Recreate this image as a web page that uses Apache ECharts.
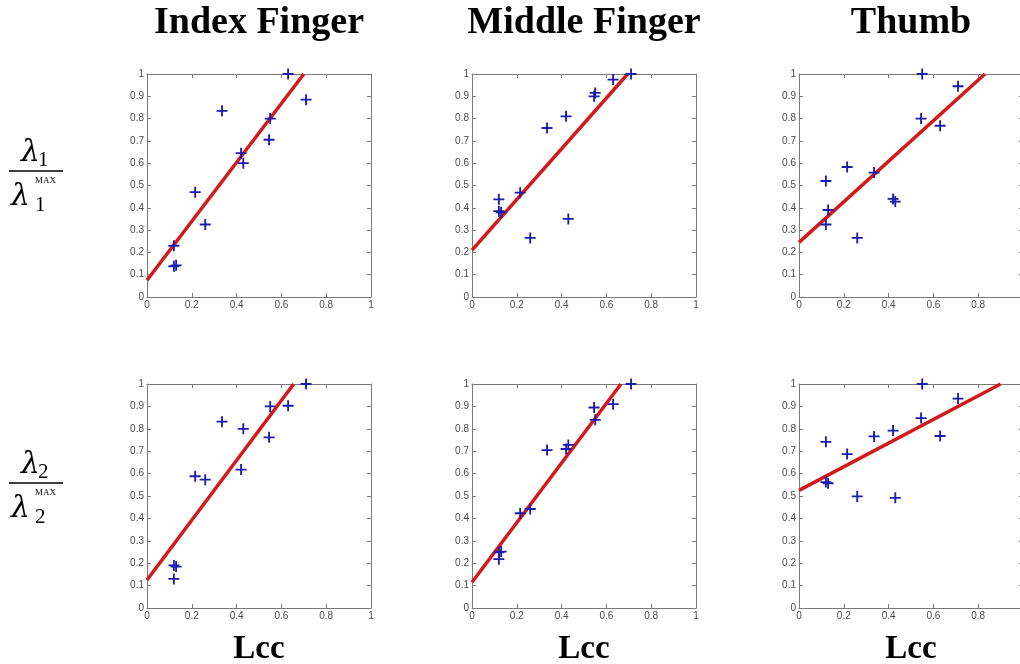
<!DOCTYPE html>
<html>
<head>
<meta charset="utf-8">
<script src="https://cdn.jsdelivr.net/npm/echarts/dist/echarts.min.js"></script>
<style>
  html, body { margin: 0; padding: 0; background: #fff; }
  #main { width: 1020px; height: 664px; }
</style>
</head>
<body>
<div id="main"></div>
<script>
// shared Lcc values (x axis of every panel)
const lcc = [0.12, 0.12, 0.13, 0.215, 0.26, 0.335, 0.42, 0.43, 0.545, 0.55, 0.63, 0.71];

// lambda1 / lambda1 max
const indexL1 = [0.23, 0.138, 0.142, 0.47, 0.325, 0.835, 0.645, 0.60, 0.705, 0.80, 1.0, 0.885];
const middleL1 = [0.438, 0.385, 0.38, 0.468, 0.265, 0.758, 0.81, 0.35, 0.90, 0.915, 0.975, 1.0];
const thumbL1 = [0.52, 0.325, 0.39, 0.583, 0.265, 0.558, 0.44, 0.428, 0.80, 1.0, 0.768, 0.945];

// lambda2 / lambda2 max
const indexL2 = [0.19, 0.13, 0.185, 0.588, 0.573, 0.832, 0.618, 0.80, 0.762, 0.90, 0.903, 1.0];
const middleL2 = [0.248, 0.218, 0.252, 0.423, 0.442, 0.705, 0.71, 0.728, 0.895, 0.84, 0.91, 1.0];
const thumbL2 = [0.742, 0.562, 0.557, 0.687, 0.498, 0.766, 0.792, 0.492, 0.848, 1.0, 0.768, 0.935];

// fitted lines, end points
const fitIndexL1 = [[0, 0.075], [0.70, 1]];
const fitMiddleL1 = [[0, 0.21], [0.695, 1]];
const fitThumbL1 = [[0, 0.245], [0.83, 1]];
const fitIndexL2 = [[0, 0.125], [0.655, 1]];
const fitMiddleL2 = [[0, 0.115], [0.665, 1]];
const fitThumbL2 = [[0, 0.525], [0.90, 1]];

const titles = ["Index Finger", "Middle Finger", "Thumb"];
const xName = "Lcc";

const panels = [
  { col: 0, row: 0, ys: indexL1, fit: fitIndexL1 },
  { col: 1, row: 0, ys: middleL1, fit: fitMiddleL1 },
  { col: 2, row: 0, ys: thumbL1, fit: fitThumbL1 },
  { col: 0, row: 1, ys: indexL2, fit: fitIndexL2 },
  { col: 1, row: 1, ys: middleL2, fit: fitMiddleL2 },
  { col: 2, row: 1, ys: thumbL2, fit: fitThumbL2 },
];

const colLeft = [147, 472, 799];
const rowTop = [74, 384];
const boxW = 224;
const boxH = 223;
const axisColor = "#7a7a7a";
const labelColor = "#4a4a4a";
const plus = "path://M5,0H7V5H12V7H7V12H5V7H0V5H5Z";

const fmt = function (v) {
  return String(Math.round(v * 10) / 10);
};

function axisCommon(showLabel) {
  return {
    min: 0,
    max: 1,
    splitLine: { show: false },
    axisLine: { show: true, onZero: false, lineStyle: { color: axisColor, width: 1 } },
    axisTick: { show: true, inside: true, length: 4, lineStyle: { color: axisColor } },
    axisLabel: {
      show: showLabel,
      formatter: fmt,
      color: labelColor,
      fontSize: 10,
      fontFamily: "Liberation Sans",
      margin: 3,
    },
  };
}

const grid = [], xAxis = [], yAxis = [], series = [];
panels.forEach(function (p, i) {
  grid.push({
    left: colLeft[p.col], top: rowTop[p.row], width: boxW, height: boxH + p.row,
    containLabel: false, outerBoundsMode: "none",
  });
  xAxis.push(Object.assign(axisCommon(true), { type: "value", gridIndex: i, position: "bottom", interval: 0.2 }));
  xAxis.push(Object.assign(axisCommon(false), { type: "value", gridIndex: i, position: "top", interval: 0.2 }));
  yAxis.push(Object.assign(axisCommon(true), { type: "value", gridIndex: i, position: "left", interval: 0.1 }));
  yAxis.push(Object.assign(axisCommon(false), { type: "value", gridIndex: i, position: "right", interval: 0.1 }));
  series.push({
    type: "line",
    xAxisIndex: 2 * i,
    yAxisIndex: 2 * i,
    data: p.fit,
    symbol: "none",
    silent: true,
    z: 2,
    lineStyle: { color: "#d21a1a", width: 3.5 },
  });
  series.push({
    type: "scatter",
    xAxisIndex: 2 * i,
    yAxisIndex: 2 * i,
    data: lcc.map(function (x, k) { return [x, p.ys[k]]; }),
    symbol: plus,
    symbolSize: 11,
    clip: false,
    z: 3,
    itemStyle: { color: "#1c1caa", opacity: 1 },
  });
});

const serif = '"Liberation Serif", "DejaVu Serif", serif';
const graphic = [];
titles.forEach(function (t, c) {
  graphic.push({
    type: "text", x: colLeft[c] + boxW / 2, y: 23,
    style: { text: t, font: "bold 38px " + serif, fill: "#000", align: "center", verticalAlign: "middle", textAlign: "center", textVerticalAlign: "middle" },
  });
  graphic.push({
    type: "text", x: colLeft[c] + boxW / 2, y: 649,
    style: { text: xName, font: "bold 33px " + serif, fill: "#000", align: "center", verticalAlign: "middle", textAlign: "center", textVerticalAlign: "middle" },
  });
});

// y axis labels: lambda_n over lambda_n^MAX
function fraction(n, top) {
  const items = [];
  function txt(x, y, s, font) {
    items.push({
      type: "text", x: x, y: y,
      style: { text: s, font: font, fill: "#000", align: "left", verticalAlign: "middle", textAlign: "left", textVerticalAlign: "middle" },
    });
  }
  const lam = 'italic 30px "DejaVu Serif", serif';
  txt(21, top + 12, "\u03bb", lam);
  txt(38, top + 19, String(n), "21px " + serif);
  items.push({
    type: "line",
    shape: { x1: 9, y1: top + 30, x2: 63, y2: top + 30 },
    style: { stroke: "#000", lineWidth: 1.5 },
  });
  txt(11, top + 56, "\u03bb", lam);
  txt(35, top + 64, String(n), "21px " + serif);
  txt(35, top + 40, "MAX", "9px " + serif);
  return items;
}
fraction(1, 141).forEach(function (g) { graphic.push(g); });
fraction(2, 453).forEach(function (g) { graphic.push(g); });

const chart = echarts.init(document.getElementById("main"));
chart.setOption({
  backgroundColor: "#fff",
  animation: false,
  grid: grid,
  xAxis: xAxis,
  yAxis: yAxis,
  series: series,
  graphic: graphic,
});
window.addEventListener("resize", function () {
  chart.resize();
});
</script>
</body>
</html>
